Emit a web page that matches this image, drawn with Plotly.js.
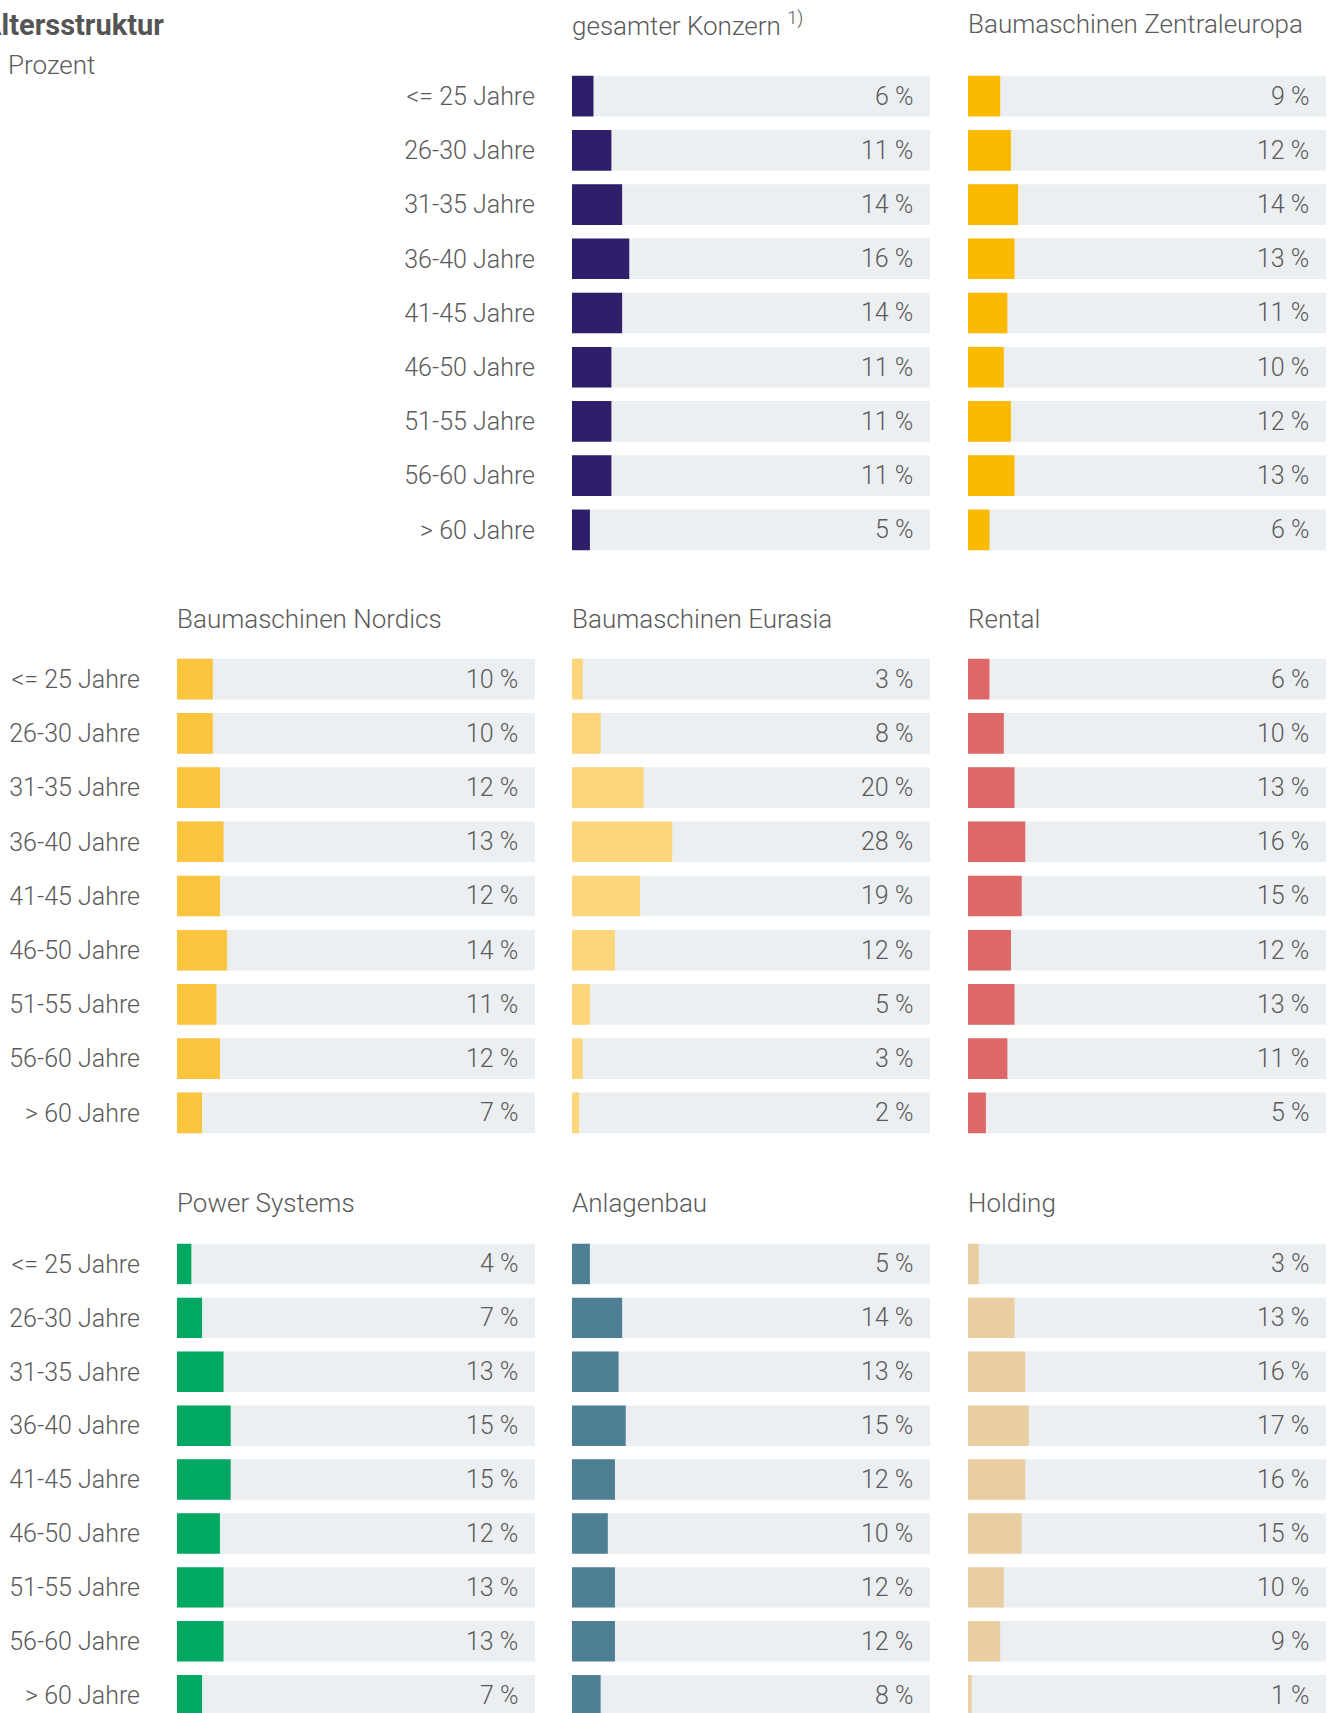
<!DOCTYPE html>
<html>
<head>
<meta charset="utf-8">
<script src="https://cdn.plot.ly/plotly-3.0.1.min.js"></script>
<style>
  html, body { margin: 0; padding: 0; background: #ffffff; }
  #chart { width: 1336px; height: 1713px; }
</style>
</head>
<body>
<div id="chart"></div>
<script>
// ---------- DATA ----------
const categories = ["<= 25 Jahre", "26-30 Jahre", "31-35 Jahre", "36-40 Jahre", "41-45 Jahre",
                    "46-50 Jahre", "51-55 Jahre", "56-60 Jahre", "> 60 Jahre"];
const konzern       = [6, 11, 14, 16, 14, 11, 11, 11, 5];
const zentraleuropa = [9, 12, 14, 13, 11, 10, 12, 13, 6];
const nordics       = [10, 10, 12, 13, 12, 14, 11, 12, 7];
const eurasia       = [3, 8, 20, 28, 19, 12, 5, 3, 2];
const rental        = [6, 10, 13, 16, 15, 12, 13, 11, 5];
const powerSystems  = [4, 7, 13, 15, 15, 12, 13, 13, 7];
const anlagenbau    = [5, 14, 13, 15, 12, 10, 12, 12, 8];
const holding       = [3, 13, 16, 17, 16, 15, 10, 9, 1];
const FULL = 100;  // full track = 100 %

const panelTitles = ["gesamter Konzern <sup>1)</sup>", "Baumaschinen Zentraleuropa",
                     "Baumaschinen Nordics", "Baumaschinen Eurasia", "Rental",
                     "Power Systems", "Anlagenbau", "Holding"];
const panelData = [konzern, zentraleuropa, nordics, eurasia, rental, powerSystems, anlagenbau, holding];

// ---------- STYLE / LAYOUT ----------
const W = 1336, H = 1713;
const FONT = "Roboto, 'Liberation Sans Narrow', 'DejaVu Sans Condensed', sans-serif";
const FS = 25;
const TXT = "#5a5a5a";
const TRACK = "#eceff2";
const panelColors = ["#2f1f6b", "#fbb900", "#fcc53f", "#fdd57b", "#de6767",
                     "#00a862", "#4e7f95", "#e9cea2"];
// grid positions [col, row]
const panelPos = [[1,0],[2,0],[0,1],[1,1],[2,1],[0,2],[1,2],[2,2]];
const colX = [[177, 535], [572, 930], [968, 1326]];
const rowY = [
  {top: 69,  bottom: 557,  range: [8.5, -0.5], title: 24},
  {top: 652, bottom: 1140, range: [8.5, -0.5], title: 619},
  {top: 1237, bottom: 1713, range: [8.33, -0.5], title: 1203}
];
const px = x => x / W;
const py = y => 1 - y / H;

const traces = [];
const annotations = [];
const layout = {
  width: W, height: H,
  margin: {l: 0, r: 0, t: 0, b: 0},
  paper_bgcolor: "#ffffff",
  plot_bgcolor: "rgba(0,0,0,0)",
  showlegend: false,
  barmode: "overlay",
  font: {family: FONT, color: TXT, size: FS, weight: 300},
  annotations: annotations
};

panelData.forEach((vals, i) => {
  const [c, r] = panelPos[i];
  const n = i + 1;
  const xa = n === 1 ? "x" : "x" + n;
  const ya = n === 1 ? "y" : "y" + n;
  const xKey = n === 1 ? "xaxis" : "xaxis" + n;
  const yKey = n === 1 ? "yaxis" : "yaxis" + n;
  const row = rowY[r];
  const wpx = colX[c][1] - colX[c][0];

  layout[xKey] = {
    domain: [px(colX[c][0]), px(colX[c][1])],
    range: [0, FULL], anchor: ya,
    showgrid: false, zeroline: false, showticklabels: false, showline: false, fixedrange: true
  };
  layout[yKey] = {
    domain: [py(row.bottom), py(row.top)],
    type: "category", categoryorder: "array", categoryarray: categories,
    range: row.range, anchor: xa,
    showgrid: false, zeroline: false, showline: false, ticks: "",
    showticklabels: c === 0 || (r === 0 && c === 1),
    ticklabelstandoff: 36,
    tickfont: {family: FONT, size: FS, color: TXT, weight: 300},
    fixedrange: true
  };

  traces.push({
    type: "bar", orientation: "h", xaxis: xa, yaxis: ya,
    y: categories, x: categories.map(() => FULL),
    width: 0.75, marker: {color: TRACK}, hoverinfo: "skip"
  });
  traces.push({
    type: "bar", orientation: "h", xaxis: xa, yaxis: ya,
    y: categories, x: vals,
    width: 0.75, marker: {color: panelColors[i]}
  });

  vals.forEach((v, k) => {
    annotations.push({
      xref: xa + " domain", yref: ya, x: 1 - 15 / wpx, y: categories[k],
      xanchor: "right", yanchor: "middle", showarrow: false,
      text: v + " %", font: {family: FONT, size: FS, color: TXT, weight: 300}
    });
  });

  annotations.push({
    xref: xa + " domain", yref: "paper", x: -2 / wpx, y: py(row.title),
    xanchor: "left", yanchor: "middle", showarrow: false,
    text: panelTitles[i], font: {family: FONT, size: FS + 1, color: TXT, weight: 300}
  });
});

// chart title (its first letter runs off the left edge, as in the original) & unit
annotations.push({
  xref: "paper", yref: "paper", x: px(166), y: py(25),
  xanchor: "right", yanchor: "middle", showarrow: false,
  text: "<b>Altersstruktur</b>", font: {family: FONT, size: 29, color: "#555555"}
});
annotations.push({
  xref: "paper", yref: "paper", x: px(6), y: py(65),
  xanchor: "left", yanchor: "middle", showarrow: false,
  text: "Prozent", font: {family: FONT, size: FS + 1, color: TXT, weight: 300}
});

Plotly.newPlot("chart", traces, layout, {displayModeBar: false, staticPlot: true});
</script>
</body>
</html>
